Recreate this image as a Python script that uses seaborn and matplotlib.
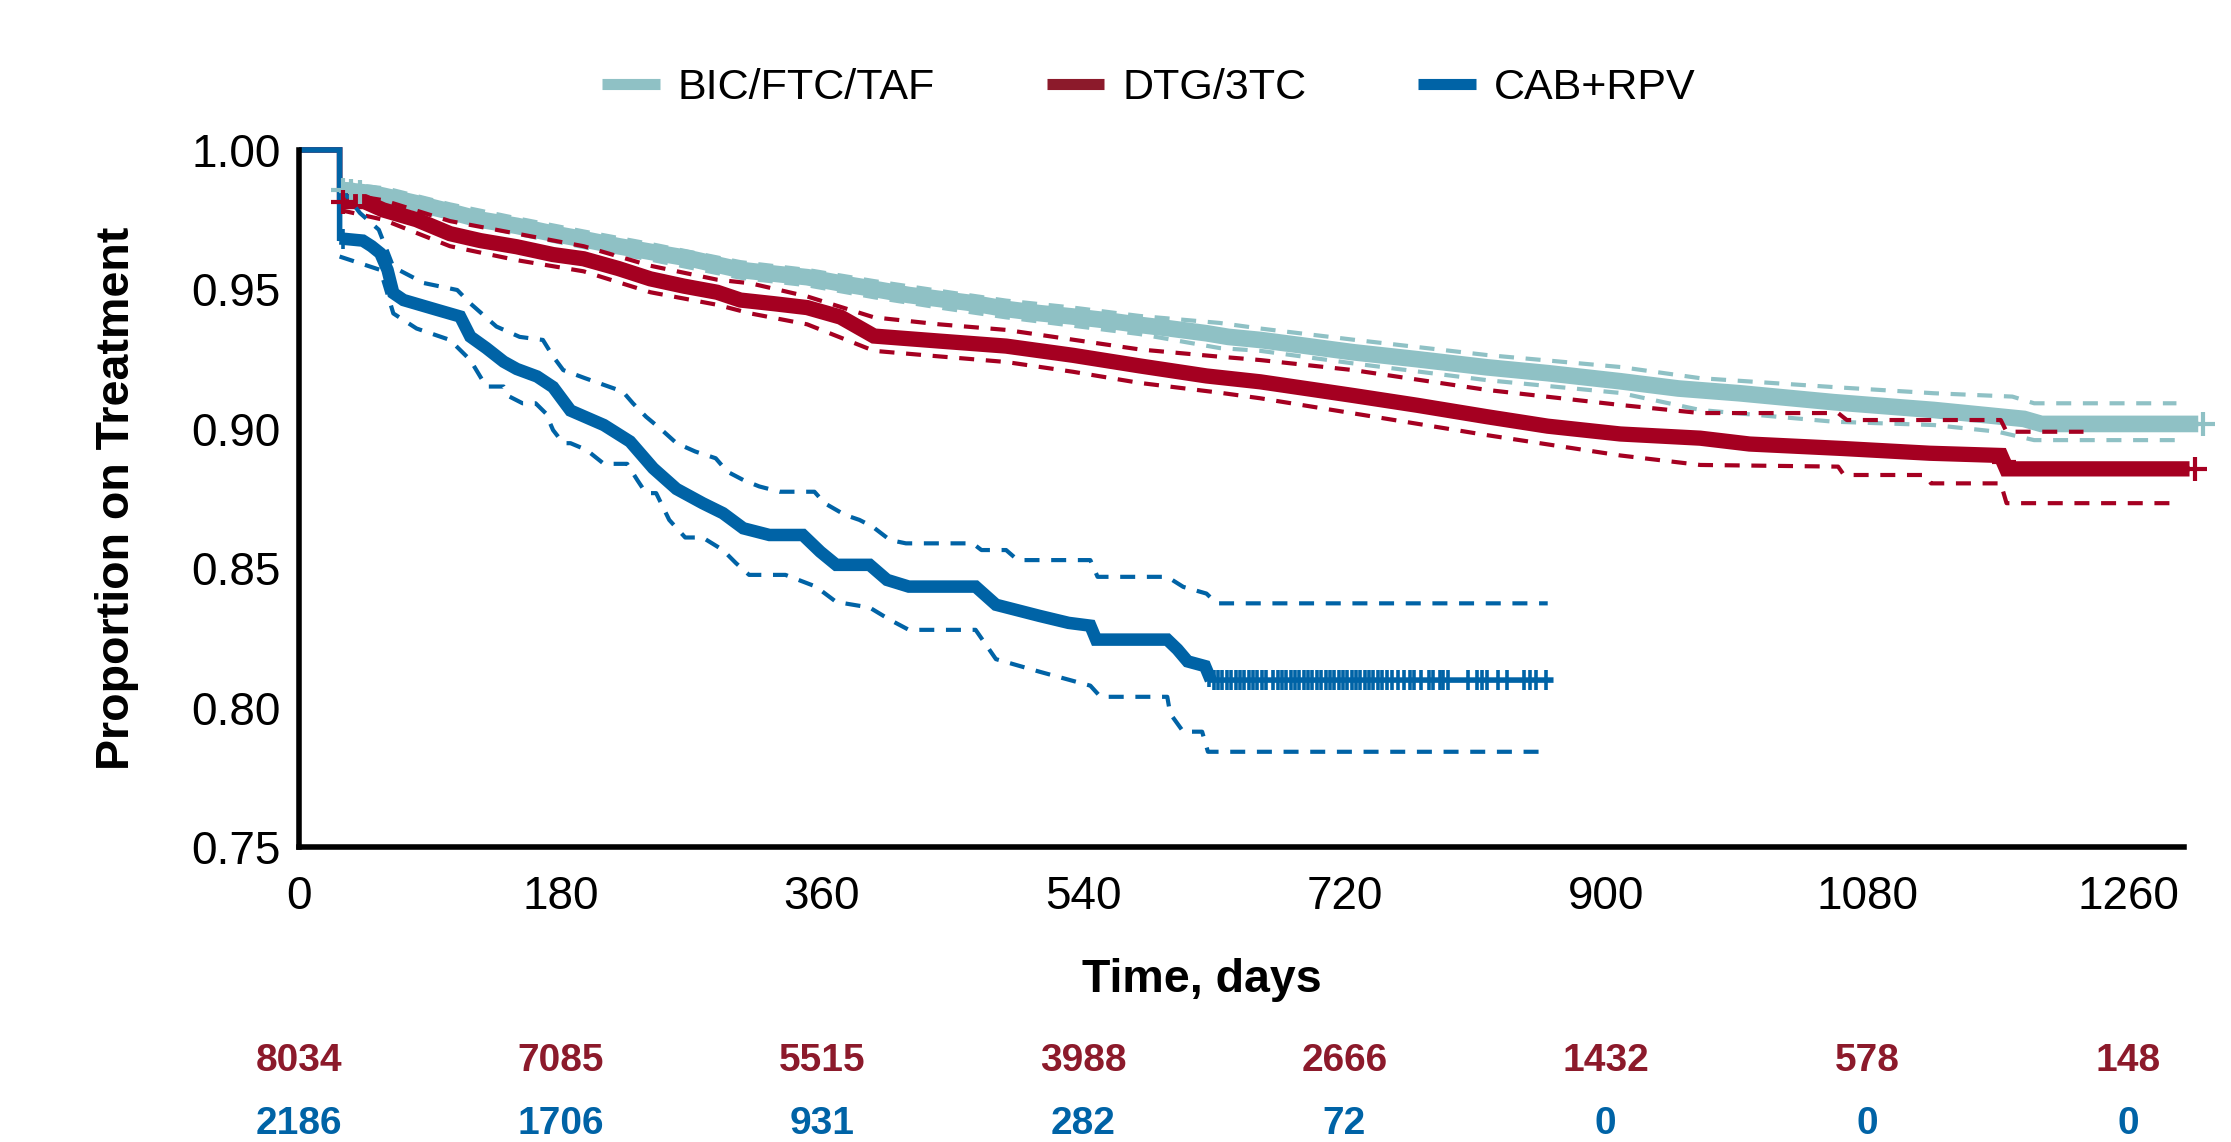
import numpy as np
import pandas as pd
import matplotlib
matplotlib.use("Agg")
import matplotlib.pyplot as plt
import seaborn as sns
from matplotlib.lines import Line2D
from matplotlib import transforms

sns.set_theme(style="white")
plt.rcParams["font.family"] = ["Liberation Sans", "DejaVu Sans"]
plt.rcParams["text.color"] = "black"
plt.rcParams["axes.labelcolor"] = "black"

# ---------------- data ----------------
series_names = ["BIC/FTC/TAF", "DTG/3TC", "CAB+RPV"]

# survival curves as (day, proportion) vertices
teal_t = [0, 28, 28, 50, 58, 80, 104, 125, 150, 175, 196, 220, 242, 270, 304, 330, 350, 375,
          396, 420, 441, 465, 487, 510, 533, 555, 579, 600, 625, 640, 662, 690, 726, 770, 818,
          860, 910, 950, 992, 1057, 1126, 1188, 1200, 1308]
teal_s = [1.0, 1.0, 0.9857, 0.9845, 0.9836, 0.981, 0.9779, 0.975, 0.9728, 0.970, 0.968,
          0.9655, 0.9635, 0.961, 0.957, 0.9555, 0.9544, 0.952, 0.9502, 0.948, 0.9466, 0.945,
          0.943, 0.9415, 0.9403, 0.939, 0.9373, 0.936, 0.9343, 0.933, 0.9319, 0.930, 0.9275,
          0.925, 0.9221, 0.920, 0.9171, 0.9145, 0.9128, 0.9096, 0.9068, 0.9036, 0.9018, 0.9018]
teal_hi_t = [28, 60, 104, 150, 196, 242, 304, 350, 396, 441, 487, 533, 579, 634, 662, 726,
             818, 910, 965, 1057, 1126, 1180, 1195, 1293]
teal_hi = [0.988, 0.9862, 0.9805, 0.9755, 0.9708, 0.9663, 0.9598, 0.957, 0.953, 0.9495,
           0.946, 0.9435, 0.9405, 0.938, 0.936, 0.932, 0.9265, 0.9222, 0.9182, 0.915, 0.9128,
           0.9116, 0.9092, 0.9092]
teal_lo_t = [28, 60, 104, 150, 196, 242, 304, 350, 396, 441, 487, 533, 579, 634, 662, 726,
             818, 910, 965, 1057, 1126, 1170, 1195, 1293]
teal_lo = [0.9833, 0.981, 0.9752, 0.970, 0.9652, 0.9607, 0.9542, 0.9515, 0.9472, 0.9435,
           0.940, 0.937, 0.934, 0.929, 0.928, 0.9235, 0.9175, 0.9129, 0.9068, 0.9026, 0.9014,
           0.899, 0.896, 0.896]

red_t = [0, 28, 28, 45, 58, 81, 104, 125, 150, 175, 196, 220, 242, 265, 288, 304, 327, 350,
         373, 396, 441, 487, 533, 579, 625, 662, 700, 726, 770, 818, 860, 910, 965, 999, 1063,
         1123, 1172, 1176, 1302]
red_s = [1.0, 1.0, 0.9815, 0.9815, 0.9785, 0.975, 0.970, 0.9675, 0.9653, 0.9625, 0.961,
         0.9575, 0.9538, 0.9512, 0.949, 0.9462, 0.9449, 0.9435, 0.9401, 0.9333, 0.9315, 0.9297,
         0.9264, 0.9226, 0.919, 0.9169, 0.914, 0.912, 0.9085, 0.9044, 0.901, 0.8982, 0.8967,
         0.8946, 0.893, 0.8913, 0.8905, 0.8857, 0.8857]
red_hi_t = [28, 58, 104, 150, 196, 242, 288, 311, 350, 396, 441, 487, 533, 579, 634, 662,
            726, 818, 910, 965, 1060, 1066, 1172, 1176, 1229]
red_hi = [0.9845, 0.982, 0.9745, 0.970, 0.9655, 0.9585, 0.9535, 0.9522, 0.9475, 0.940,
          0.9375, 0.9355, 0.932, 0.9285, 0.9259, 0.9247, 0.9211, 0.914, 0.9086, 0.9057, 0.9057,
          0.9032, 0.9032, 0.899, 0.899]
red_lo_t = [28, 58, 104, 150, 196, 242, 288, 311, 350, 396, 441, 487, 533, 579, 634, 662,
            726, 818, 910, 965, 1060, 1064, 1120, 1124, 1172, 1176, 1289]
red_lo = [0.9785, 0.975, 0.9655, 0.9605, 0.9565, 0.949, 0.9445, 0.9414, 0.9375, 0.928, 0.926,
          0.924, 0.9205, 0.9165, 0.913, 0.911, 0.9056, 0.8978, 0.8905, 0.8871, 0.8865, 0.8835,
          0.8835, 0.8805, 0.8805, 0.8734, 0.8734]

blue_t = [0, 28, 28, 44, 50, 56, 61, 65, 72, 95, 111, 118, 129, 141, 150, 164, 175, 187, 210,
          228, 244, 260, 278, 292, 306, 324, 347, 359, 370, 393, 405, 420, 466, 480, 510, 530,
          545, 549, 598, 605, 612, 624, 628, 864]
blue_s = [1.0, 1.0, 0.9683, 0.9675, 0.9655, 0.963, 0.957, 0.9487, 0.9462, 0.9427, 0.9403,
          0.9331, 0.929, 0.9241, 0.9215, 0.9188, 0.915, 0.9066, 0.9014, 0.8955, 0.8859, 0.8785,
          0.8734, 0.8698, 0.8644, 0.862, 0.862, 0.856, 0.8513, 0.8513, 0.8459, 0.8435, 0.8435,
          0.837, 0.833, 0.8305, 0.8295, 0.8245, 0.8245, 0.821, 0.8167, 0.815, 0.810, 0.810]
blue_hi_t = [28, 42, 55, 65, 86, 109, 118, 136, 152, 168, 175, 182, 197, 210, 223, 230, 239,
             250, 260, 273, 287, 295, 306, 317, 331, 355, 362, 376, 386, 395, 407, 418, 464,
             470, 487, 495, 545, 550, 598, 609, 625, 632, 860]
blue_hi = [0.9869, 0.9774, 0.9714, 0.958, 0.9523, 0.9498, 0.945, 0.9367, 0.933, 0.9319,
           0.926, 0.9211, 0.9182, 0.9158, 0.9134, 0.9092, 0.9044, 0.8996, 0.8949, 0.8919,
           0.8895, 0.8847, 0.8817, 0.8794, 0.8775, 0.8775, 0.8734, 0.8692, 0.8674, 0.865,
           0.8602, 0.859, 0.859, 0.8566, 0.8566, 0.853, 0.853, 0.847, 0.847, 0.8434, 0.841,
           0.8375, 0.8375]
blue_lo_t = [28, 56, 65, 81, 104, 118, 129, 141, 145, 154, 163, 170, 175, 182, 187, 198, 210,
             226, 233, 239, 246, 255, 266, 278, 292, 301, 310, 335, 344, 356, 370, 393, 407,
             420, 466, 480, 510, 545, 552, 598, 600, 609, 622, 626, 860]
blue_lo = [0.9618, 0.957, 0.9414, 0.936, 0.9319, 0.9247, 0.9152, 0.9152, 0.9116, 0.9092,
           0.9092, 0.9056, 0.8996, 0.8949, 0.8949, 0.8925, 0.8875, 0.8875, 0.8817, 0.877,
           0.877, 0.8674, 0.8611, 0.8611, 0.8566, 0.8519, 0.8477, 0.8477, 0.8459, 0.8435,
           0.838, 0.836, 0.8316, 0.828, 0.828, 0.8175, 0.813, 0.808, 0.804, 0.804, 0.798,
           0.7915, 0.7915, 0.7843, 0.7843]

# censor (+) times, days
teal_censor = [30, 36, 42, 1311]
red_censor = [30, 1174, 1306]
blue_censor = [30, 627, 630, 633, 636, 639, 642, 645, 648, 651, 654, 657, 660, 663, 666, 671,
               674, 677, 680, 683, 686, 689, 692, 695, 698, 701, 704, 707, 710, 713, 716, 719,
               722, 725, 728, 731, 734, 737, 740, 743, 746, 749, 753, 757, 761, 765, 768, 773,
               778, 781, 786, 788, 791, 805, 811, 815, 818, 826, 832, 844, 848, 852, 859]

x_ticks = [0, 180, 360, 540, 720, 900, 1080, 1260]
y_ticks = [0.75, 0.80, 0.85, 0.90, 0.95, 1.00]
risk_dtg = [8034, 7085, 5515, 3988, 2666, 1432, 578, 148]
risk_cab = [2186, 1706, 931, 282, 72, 0, 0, 0]

C_TEAL = "#8FC1C5"
C_RED = "#A50021"
C_BLUE = "#0063A6"
C_RED_TXT = "#8C1A2B"
C_BLUE_TXT = "#0063A6"

# ---------------- figure ----------------
fig = plt.figure(figsize=(22.31, 11.42), dpi=100)
ax = fig.add_axes([0.134, 0.2579, 0.9788 - 0.134, 0.8687 - 0.2579])

DASH = (0, (3.6, 2.8))


def curve(t, s, color, lw, ls="-"):
    df = pd.DataFrame({"t": t, "s": s})
    sns.lineplot(data=df, x="t", y="s", ax=ax, color=color, linewidth=lw, linestyle=ls,
                 estimator=None, sort=False, legend=False, clip_on=False,
                 solid_joinstyle="miter", solid_capstyle="butt", dash_capstyle="butt")


def censor(t, s, days, color, marker, size, lw):
    yv = np.interp(days, t, s)
    df = pd.DataFrame({"t": days, "s": yv})
    sns.scatterplot(data=df, x="t", y="s", ax=ax, color=color, marker=marker, s=size,
                    linewidth=lw, legend=False, clip_on=False, zorder=4)


def km(t, s, color, lw_thick, cut=None):
    # thin full curve (start segment at 1.00), then the thick censored band
    curve(t, s, color, 4)
    t = np.asarray(t)
    s = np.asarray(s)
    keep = np.arange(len(t)) >= 2
    if cut is not None:
        keep &= t <= cut
    curve(list(t[keep]), list(s[keep]), color, lw_thick)


# teal
curve(teal_hi_t, teal_hi, C_TEAL, 3, DASH)
curve(teal_lo_t, teal_lo, C_TEAL, 3, DASH)
km(teal_t, teal_s, C_TEAL, 12)
censor(teal_t, teal_s, teal_censor, C_TEAL, "+", 300, 3)
# red
curve(red_hi_t, red_hi, C_RED, 3, DASH)
curve(red_lo_t, red_lo, C_RED, 3, DASH)
km(red_t, red_s, C_RED, 11)
censor(red_t, red_s, red_censor, C_RED, "+", 300, 3)
# blue
curve(blue_hi_t, blue_hi, C_BLUE, 3, DASH)
curve(blue_lo_t, blue_lo, C_BLUE, 3, DASH)
km(blue_t, blue_s, C_BLUE, 9, cut=628)
censor(blue_t, blue_s, blue_censor, C_BLUE, "|", 190, 2.6)

# axes styling
ax.set_xlim(0, 1298)
ax.set_ylim(0.75, 1.0)
ax.set_xticks(x_ticks)
ax.set_yticks(y_ticks)
ax.set_yticklabels([f"{v:.2f}" for v in y_ticks])
ax.tick_params(axis="both", length=0, labelsize=33, colors="black")
ax.tick_params(axis="x", pad=20)
ax.tick_params(axis="y", pad=13)
for sp in ["top", "right"]:
    ax.spines[sp].set_visible(False)
for sp in ["left", "bottom"]:
    ax.spines[sp].set_color("black")
    ax.spines[sp].set_linewidth(4)
    ax.spines[sp].set_zorder(5)
ax.set_xlabel("Time, days", fontsize=33.5, fontweight="bold", labelpad=28, color="black")
ax.xaxis.label.set_x(0.479)
ax.set_ylabel("Proportion on Treatment", fontsize=33.5, fontweight="bold", labelpad=38,
              color="black")
ax.grid(False)
ax.set_facecolor("white")

# legend
handles = [Line2D([0], [0], color=c, lw=8, solid_capstyle="butt")
           for c in [C_TEAL, C_RED_TXT, C_BLUE]]
leg = fig.legend(handles, series_names, loc="center", bbox_to_anchor=(0.515, 0.923), ncol=3,
                 frameon=False, fontsize=31, handlelength=1.33, handletextpad=0.42,
                 columnspacing=2.6)
for tx in leg.get_texts():
    tx.set_color("black")

# number at risk
trans = transforms.blended_transform_factory(ax.transData, fig.transFigure)
for x, n1, n2 in zip(x_ticks, risk_dtg, risk_cab):
    ax.text(x, 1 - 1061 / 1142, str(n1), transform=trans, ha="center", va="center",
            fontsize=28, fontweight="bold", color=C_RED_TXT, clip_on=False)
    ax.text(x, 1 - 1124 / 1142, str(n2), transform=trans, ha="center", va="center",
            fontsize=28, fontweight="bold", color=C_BLUE_TXT, clip_on=False)

fig.savefig("out.png", dpi=100, facecolor="white")
